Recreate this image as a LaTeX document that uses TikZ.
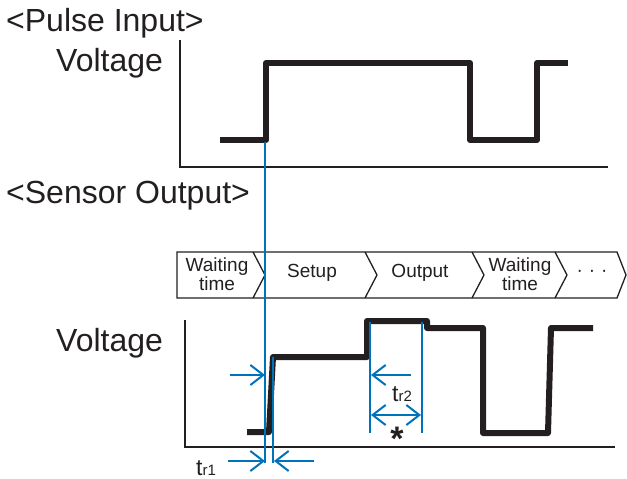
\documentclass[tikz,border=0pt]{standalone}
\usepackage{fontspec}
\setmainfont{Liberation Sans}
\usetikzlibrary{arrows.meta}
\definecolor{cblue}{RGB}{0,114,188}
\definecolor{cblack}{RGB}{35,31,32}
\begin{document}
\begin{tikzpicture}[x=1pt,y=-1pt,
  axis/.style={draw=cblack,line width=2pt},
  sig/.style={draw=cblack,line width=6pt,line join=round},
  band/.style={draw=cblack,line width=1.3pt,line join=miter},
  bl/.style={draw=cblue,line width=2pt},
  blthin/.style={draw=cblue,line width=1.3pt},
  barrow/.style={draw=cblue,line width=2pt,-{Straight Barb[length=13pt,width=20pt,line width=2pt]}},
  bdarrow/.style={draw=cblue,line width=2pt,{Straight Barb[length=13pt,width=20pt,line width=2pt]}-{Straight Barb[length=13pt,width=20pt,line width=2pt]}},
  big/.style={inner sep=0pt,text=cblack,font=\fontsize{32}{36}\selectfont},
  small/.style={inner sep=0pt,text=cblack,align=center,font=\fontsize{19}{15}\selectfont},
  lab/.style={inner sep=0pt,text=cblack}]
\useasboundingbox (0,0) rectangle (627,479);
% labels
\node[big,anchor=west] (pin) at (6,23) {<Pulse Input>};
\node[big,anchor=west] (v1) at (56,63) {Voltage};
\node[big,anchor=west] (sout) at (6,196) {<Sensor Output>};
\node[big,anchor=west] (v2) at (56,343) {Voltage};
% top axes
\draw[axis] (180,40) -- (180,167) -- (608,167);
% top pulse
\draw[sig] (220,140) -- (266,140) -- (266,63) -- (470,63) -- (470,140) -- (537,140) -- (537,63) -- (568,63);
% band
\draw[band] (177,252) -- (617,252) -- (626,275) -- (617,298) -- (177,298) -- cycle;
\draw[band] (253,252) -- (265,275) -- (253,298);
\draw[band] (365,252) -- (377,275) -- (365,298);
\draw[band] (472,252) -- (484,275) -- (472,298);
\draw[band] (555,252) -- (567,275) -- (555,298);
\node[small] (w1) at (217,274) {Waiting\\time};
\node[small] (setup) at (312,273) {Setup};
\node[small] (outp) at (420,273) {Output};
\node[small] (w2) at (520,274) {Waiting\\time};
\node[small] (dots) at (592,273) {·\hspace{6pt}·\hspace{6pt}·};
% bottom axes
\draw[axis] (185,320) -- (185,447) -- (615,447);
% bottom signal
\draw[sig] (247,432) -- (269,432) -- (273,357) -- (367,357) -- (367,321) -- (427,321) -- (427,328) -- (483,328) -- (483,433) -- (548,433) -- (551,328) -- (593,328);
% blue lines
\coordinate (b1top) at (265,142);
\coordinate (b1bot) at (265,463);
\coordinate (b2top) at (273,357);
\coordinate (b2bot) at (273,463);
\draw[bl] (b1top) -- (b1bot);
\draw[blthin] (b2top) -- (b2bot);
\coordinate (a1s) at (230,375);
\coordinate (a1e) at (265,375);
\draw[barrow] (a1s) -- (a1e);
\coordinate (a2s) at (228,461);
\coordinate (a2e) at (265,461);
\draw[barrow] (a2s) -- (a2e);
\coordinate (a3s) at (314,461);
\coordinate (a3e) at (274,461);
\draw[barrow] (a3s) -- (a3e);
\node[lab,anchor=base west] (tr1) at (196,475) {\fontsize{23}{23}\selectfont t\fontsize{15}{15}\selectfont r1};
% tr2
\coordinate (c1top) at (370,322);
\coordinate (c1bot) at (370,433);
\coordinate (c2top) at (422,322);
\coordinate (c2bot) at (422,433);
\draw[bl] (c1top) -- (c1bot);
\draw[bl] (c2top) -- (c2bot);
\coordinate (a4s) at (411,375);
\coordinate (a4e) at (371,375);
\draw[barrow] (a4s) -- (a4e);
\coordinate (a5s) at (371,415);
\coordinate (a5e) at (421,415);
\draw[bdarrow] (a5s) -- (a5e);
\node[lab,anchor=base west] (tr2) at (392,401) {\fontsize{23}{23}\selectfont t\fontsize{15}{15}\selectfont r2};
\node[lab,font=\fontsize{34}{34}\selectfont\bfseries] (ast) at (397,439) {*};
\end{tikzpicture}
\end{document}
